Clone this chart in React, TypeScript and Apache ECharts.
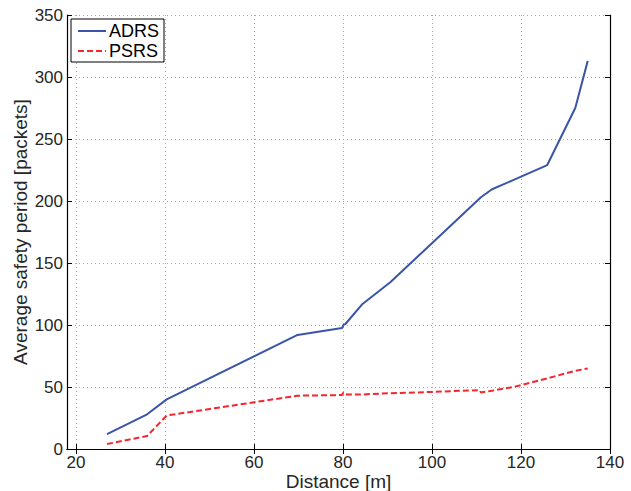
import React, { useEffect, useRef } from "react";
import * as echarts from "echarts";

const xTicks = [20, 40, 60, 80, 100, 120, 140];
const yTicks = [0, 50, 100, 150, 200, 250, 300, 350];

const adrsX = [27, 36, 40.4, 69.8, 79.8, 80.1, 80.6, 84.4, 90.7, 100, 111, 113.5, 119, 125.9, 132.2, 135];
const adrsY = [12, 28, 40, 92, 97.5, 100, 101, 117, 134.7, 166, 203, 209.5, 218, 229, 275, 313];

const psrsX = [27, 36, 40.4, 69.8, 79.8, 80.1, 80.6, 84.4, 90.7, 100, 110.7, 111, 113.5, 118.3, 125.9, 132.2, 135];
const psrsY = [4, 10.5, 27, 43, 43.5, 45.5, 44, 44, 45, 46, 47.5, 45.5, 47, 50, 57, 63, 65];

const FONT = "Liberation Sans";

export default function App() {
  const ref = useRef<HTMLDivElement>(null);
  useEffect(() => {
    const chart = echarts.init(ref.current!, null, { renderer: "svg" });
    const axisLine = { show: true, lineStyle: { color: "#000", width: 1.2 } };
    const tick = { show: true, inside: true, length: 5, lineStyle: { color: "#000", width: 1 } };
    const grid = { show: true, lineStyle: { color: "#a8a8a8", type: [1, 3] as any, width: 1 } };
    const label = { fontFamily: FONT, fontSize: 17, lineHeight: 17, color: "#262626" };
    const title = { fontFamily: FONT, fontSize: 19, lineHeight: 19, color: "#262626" };
    chart.setOption({
      animation: false,
      backgroundColor: "#fff",
      grid: { left: 67, right: 21, top: 15, bottom: 42, containLabel: false, outerBoundsMode: "none" },
      legend: {
        orient: "vertical",
        left: 71,
        top: 19,
        padding: [3, 5, 2, 6],
        itemGap: 2,
        itemWidth: 28,
        itemHeight: 18,
        borderColor: "#000",
        borderWidth: 1,
        backgroundColor: "#fff",
        itemStyle: { opacity: 0, borderWidth: 0 },
        textStyle: { fontFamily: FONT, fontSize: 18, color: "#000", padding: [0, 0, 0, -2] },
        data: ["ADRS", "PSRS"],
      },
      xAxis: [
        {
          type: "value",
          min: 18,
          max: 140,
          axisLine,
          axisTick: { ...tick, customValues: xTicks },
          axisLabel: { ...label, margin: 5, customValues: xTicks },
          splitLine: grid,
          name: "Distance [m]",
          nameLocation: "middle",
          nameGap: 23,
          nameMoveOverlap: false,
          nameTextStyle: { ...title },
        },
        {
          type: "value",
          position: "top",
          min: 18,
          max: 140,
          axisLine,
          axisTick: { ...tick, customValues: xTicks },
          axisLabel: { show: false, customValues: xTicks },
          splitLine: { show: false },
        },
      ],
      yAxis: [
        {
          type: "value",
          min: 0,
          max: 350,
          interval: 50,
          axisLine,
          axisTick: tick,
          axisLabel: { ...label, margin: 4 },
          splitLine: grid,
          name: "Average safety period [packets]",
          nameLocation: "middle",
          nameGap: 37,
          nameMoveOverlap: false,
          nameTextStyle: { ...title },
        },
        {
          type: "value",
          position: "right",
          min: 0,
          max: 350,
          interval: 50,
          axisLine,
          axisTick: tick,
          axisLabel: { show: false },
          splitLine: { show: false },
        },
      ],
      series: [
        {
          name: "ADRS",
          type: "line",
          data: adrsX.map((x, i) => [x, adrsY[i]]),
          showSymbol: false,
          symbol: "none",
          lineStyle: { color: "#3a55a8", width: 2 },
          itemStyle: { color: "#3a55a8" },
        },
        {
          name: "PSRS",
          type: "line",
          data: psrsX.map((x, i) => [x, psrsY[i]]),
          showSymbol: false,
          symbol: "none",
          lineStyle: { color: "#f42630", width: 2, type: [6, 3] },
          itemStyle: { color: "#f42630" },
        },
      ],
    });
    return () => chart.dispose();
  }, []);
  return <div ref={ref} style={{ width: 631, height: 491, position: "absolute", left: 0, top: 0 }} />;
}
